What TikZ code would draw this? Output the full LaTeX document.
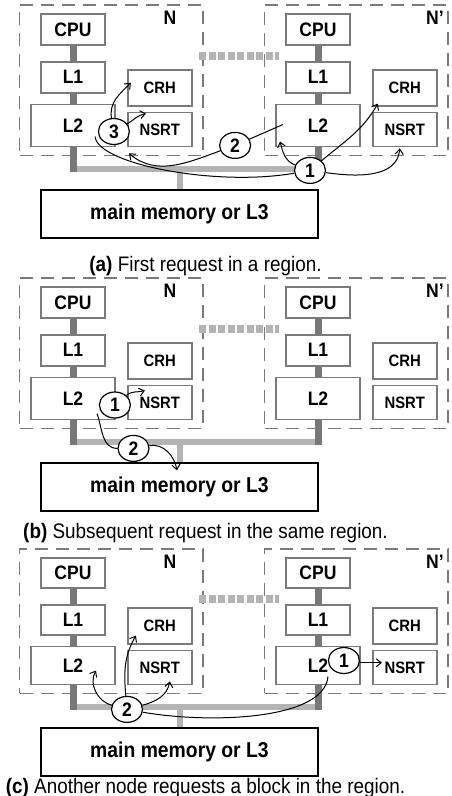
\documentclass[tikz,border=0pt]{standalone}
\usepackage{fontspec}
\setmainfont{Liberation Sans}[FakeStretch=0.9]
\usetikzlibrary{arrows.meta, positioning, calc, fit, shapes.geometric}

\definecolor{boxgray}{HTML}{7A7A7A}
\definecolor{busdark}{HTML}{787878}
\definecolor{buslight}{HTML}{B4B4B4}

\begin{document}
\begin{tikzpicture}[
        x = 1pt, y = 1pt, % one unit is one point
        > = {Straight Barb[length=5pt,width=8pt]}, % arrow head style
        line width = 1pt, % thin request lines
        every node/.style = {inner sep = 0pt}
    ]

    \tikzstyle{box}=[
        draw = boxgray,
        line width = 1.8pt,
        fill = white,
        font = \fontsize{19.5}{22}\selectfont\bfseries,
        minimum width = 64pt,
        minimum height = 31pt
    ]
    \tikzstyle{small}=[box, font = \fontsize{16.5}{19}\selectfont\bfseries]
    \tikzstyle{nodebox}=[
        draw = boxgray,
        line width = 1.6pt,
        dash pattern = on 13pt off 8pt,
        inner xsep = 10.5pt,
        inner ysep = 8pt
    ]
    \tikzstyle{lbl}=[font = \fontsize{19.5}{22}\selectfont\bfseries]
    \tikzstyle{memory}=[
        draw = black,
        line width = 1.8pt,
        fill = white,
        minimum width = 277pt,
        minimum height = 48pt,
        font = \fontsize{21.5}{25}\selectfont\bfseries
    ]
    \tikzstyle{caption}=[anchor = base, font = \fontsize{21}{25}\selectfont]
    \tikzstyle{num}=[
        ellipse,
        draw = black,
        line width = 1.2pt,
        fill = white,
        minimum width = 31pt,
        minimum height = 26pt,
        font = \fontsize{19.5}{22}\selectfont\bfseries
    ]
    \tikzstyle{dbus}=[draw = busdark, line width = 7pt]
    \tikzstyle{lbus}=[draw = buslight, line width = 6pt]
    \tikzstyle{link}=[draw = buslight, line width = 8pt, dash pattern = on 7pt off 2.5pt]

    \useasboundingbox (0,0) rectangle (451,-796);

    \foreach \p/\top/\h/\lh/\gap/\cap in {a/13/31/42/32/{First request in a region.},
            b/286/31/42/26/{Subsequent request in the same region.},
            c/557/30/38/16/{Another node requests a block in the region.}} {

        % nodes N and N'
        \foreach \q/\dx/\name/\lx in {0/0/N/-34, 1/245/{N'}/-14} {
            \node[box, minimum height=\h pt, anchor=north] (\p\q-cpu) at (73+\dx,-\top) {CPU};
            \node[box, minimum height=\h pt, below=15pt of \p\q-cpu] (\p\q-l1) {L1};
            \node[box, minimum width=84pt, minimum height=\lh pt, below=10pt of \p\q-l1] (\p\q-l2) {L2};
            \node[small, minimum height=34pt, right=11pt of \p\q-l2.south east, anchor=south west] (\p\q-nsrt) {NSRT};
            \node[small, minimum height=36pt, above=5pt of \p\q-nsrt] (\p\q-crh) {CRH};
            \node[nodebox, fit=(\p\q-cpu)(\p\q-l2)(\p\q-crh)] (\p\q-box) {};
            \node[lbl] (\p\q-name) at ($(\p\q-box.north east)+(\lx,-14)$) {\name};
            \coordinate (\p\q-bus) at ($(\p\q-l2.south)+(0,-22)$);
        }

        \draw[lbus] (\p0-bus) -- (\p1-bus);
        \foreach \q in {0,1}
            \draw[dbus] (\p\q-cpu) -- (\p\q-l1) (\p\q-l1) -- (\p\q-l2)
                (\p\q-l2) -- ([yshift=-3pt]\p\q-bus);
        \draw[link] ($(\p0-box.east |- \p0-cpu.south)+(-5,-10)$) -- ($(\p1-box.west |- \p1-cpu.south)+(15,-10)$);

        \coordinate (\p-tap) at ($(\p0-bus)+(106.5,0)$);
        \node[memory, below=20pt of \p-tap] (\p-mem) {main memory or L3};
        \draw[lbus] (\p-mem) -- (\p-tap);
        \node[caption] (\p-cap) at ($(\p-mem.south)+(26,-\gap)$) {\textbf{(\p)} \cap};
    }

    % (a) first request
    \node[num] (a-s1) at ($(a1-bus)+(-8,-1)$) {1};
    \node[num] (a-s2) at ($(a1-l2.south west)+(-40,2)$) {2};
    \node[num] (a-s3) at ($(a0-l2.east)+(-2,-6)$) {3};

    \draw ($(a0-l2)+(22,-11)$) to[out=-85, in=190, out looseness=0.35] (a-s1);
    \path[->] (a-s1) edge[out=160, in=-75] ($(a1-l2)+(-38,-16)$);
    \path[->] (a-s1) edge[out=40, in=-120] ($(a1-crh.south west)+(6,3)$);
    \path[->] (a-s1) edge[out=-8, in=-95] ($(a1-nsrt.south)+(-5,-1)$);
    \draw ($(a1-l2)+(-35,1)$) -- (a-s2);
    \path[->] (a-s2) edge[out=200, in=-40] ($(a0-nsrt.south west)+(2,-6)$);
    \path[->] (a-s3) edge[out=100, in=-135] ($(a0-crh.west)+(4,5)$);
    \path[->] (a-s3) edge[out=30, in=190] ($(a0-nsrt.north west)+(19,-2)$);

    % (b) same region again
    \node[num] (b-s1) at ($(b0-l2.east)+(-1,-6.5)$) {1};
    \node[num] (b-s2) at ($(b-tap)+(-46,-6)$) {2};

    \path[->] (b-s1) edge[out=40, in=195] ($(b0-nsrt.north west)+(18,-6)$);
    \draw ($(b0-l2)+(24,-15)$) to[out=-70, in=180] (b-s2);
    \path[->] (b-s2) edge[out=10, in=100] ($(b-mem.north)+(-2.5,-8)$);

    % (c) another node
    \node[num] (c-s1) at ($(c1-l2.east)+(-17,5)$) {1};
    \node[num] (c-s2) at ($(c-tap)+(-52.5,-2)$) {2};

    \path[->] (c-s1.-8) edge ($(c-s1.-8 -| c1-nsrt.west)+(10,0)$);
    \draw ($(c1-l2)+(10,-11)$) to[out=-95, in=-10, out looseness=0.6, in looseness=0.9] (c-s2);
    \path[->] (c-s2) edge[out=165, in=-120] ($(c0-l2)+(23,-5)$);
    \path[->] (c-s2) edge[out=95, in=-120] ($(c0-crh.south west)+(9,9)$);
    \path[->] (c-s2) edge[out=15, in=-100] ($(c0-nsrt.south)+(10,4)$);

\end{tikzpicture}
\end{document}
